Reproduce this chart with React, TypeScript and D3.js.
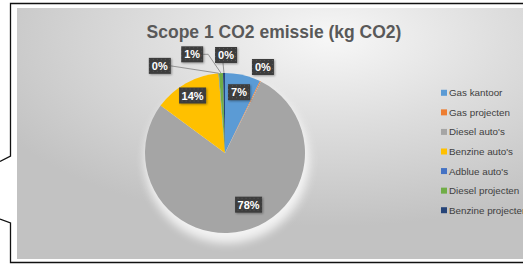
import * as d3 from 'd3';

const categories = ["Gas kantoor", "Gas projecten", "Diesel auto's", "Benzine auto's", "Adblue auto's", "Diesel projecten", "Benzine projecten"];
const values = [7.2, 0.2, 77.7, 13.6, 0.1, 0.8, 0.4];
const colors = ["#5B9BD5", "#ED7D31", "#A5A5A5", "#FFC000", "#4472C4", "#70AD47", "#264478"];
const title = "Scope 1 CO2 emissie (kg CO2)";

// label placement: inside labels sit on the slice (radius factor + nudge),
// outside ones get a polar spot [angle deg, radius factor] and a leader line
const labelInside = [true, false, true, true, false, false, false];
const labelSpot: ([number, number] | null)[] = [null, [23.8, 1.175], null, null, [-36.8, 1.36], [-18.4, 1.3], [0.6, 1.225]];
const labelNudge = [[0, 0], [0, 0], [9, -9], [-2, -3], [0, 0], [0, 0], [0, 0]];
const leader = [false, false, false, false, true, true, true];

export default function App() {
  const W = 523, H = 267;
  const cx = 225, cy = 153, r = 80;

  const total = d3.sum(values);
  const pie = d3.pie<number>().sort(null).value(d => d);
  const arcs = pie(values);
  const arc = d3.arc<d3.PieArcDatum<number>>().innerRadius(0).outerRadius(r);
  const labelArc = d3.arc<d3.PieArcDatum<number>>().innerRadius(r * 0.78).outerRadius(r * 0.78);

  const polar = (deg: number, rad: number) => {
    const a = (deg * Math.PI) / 180;
    return [cx + Math.sin(a) * rad, cy - Math.cos(a) * rad];
  };

  const labels = arcs.map((a, i) => {
    const txt = Math.round((values[i] / total) * 100) + '%';
    let x: number, y: number;
    if (labelInside[i]) {
      const c = labelArc.centroid(a);
      x = cx + c[0] + labelNudge[i][0];
      y = cy + c[1] + labelNudge[i][1];
    } else {
      const s = labelSpot[i]!;
      [x, y] = polar(s[0], s[1] * r);
    }
    const w = txt.length > 2 ? 27 : 22;
    const mid = ((a.startAngle + a.endAngle) / 2) * 180 / Math.PI;
    return { txt, x, y, w, mid, i };
  });

  const legendY = d3.scaleBand<string>().domain(categories).range([83, 220]);

  return (
    <svg width={W} height={H} style={{ position: 'absolute', left: 0, top: 0, background: '#fff' }}>
      <defs>
        <radialGradient id="bg" cx="0.62" cy="0.12" r="0.75" fx="0.62" fy="0.12">
          <stop offset="0" stopColor="#f7f7f7" />
          <stop offset="0.45" stopColor="#dedede" />
          <stop offset="1" stopColor="#c2c2c2" />
        </radialGradient>
        <pattern id="dots" width="4" height="4" patternUnits="userSpaceOnUse">
          <rect width="4" height="4" fill="#3d3d3d" />
          <rect x="1" y="1" width="1" height="1" fill="#555" />
        </pattern>
        <filter id="glow" x="-30%" y="-30%" width="160%" height="160%">
          <feGaussianBlur stdDeviation="5" />
        </filter>
        <filter id="sh" x="-20%" y="-20%" width="150%" height="150%">
          <feDropShadow dx="1" dy="1" stdDeviation="0.8" floodColor="#000" floodOpacity="0.35" />
        </filter>
      </defs>

      <rect x={17} y={8} width={W - 17} height={251} fill="url(#bg)" />

      <path d={`M${W},3.5 H10.5 V156 L0,161.5 M0,219 L10.5,223 V262.5 H${W}`} fill="none" stroke="#111" strokeWidth={1.3} />

      <text x={274} y={38} textAnchor="middle" fontFamily="Liberation Sans, Arial, sans-serif" fontWeight="bold" fontSize={17.5} fill="#595959">{title}</text>

      <circle cx={cx + 2} cy={cy + 8} r={r + 2} fill="#fff" opacity={0.8} filter="url(#glow)" />
      <g transform={`translate(${cx},${cy})`}>
        {arcs.map((a, i) => (
          <path key={i} d={arc(a) || ''} fill={colors[i]} />
        ))}
      </g>

      {labels.map(l => {
        if (!leader[l.i]) return null;
        const [ex, ey] = polar(l.mid, r);
        const bx = l.x + l.w / 2, by = l.y;
        if (l.i === 6) {
          return <line key={'l' + l.i} x1={ex} y1={ey} x2={ex - 1} y2={l.y + 8} stroke="#7f7f7f" strokeWidth={0.8} />;
        }
        const pts = l.i === 5 ? [[bx, by], [bx + 5, by], [ex, ey]] : [[bx, by], [ex, ey]];
        return <polyline key={'l' + l.i} points={pts.map(p => p.join(',')).join(' ')} fill="none" stroke="#7f7f7f" strokeWidth={0.8} />;
      })}

      {labels.map(l => (
        <g key={'b' + l.i} transform={`translate(${l.x},${l.y})`}>
          <rect x={-l.w / 2} y={-8} width={l.w} height={16} fill="url(#dots)" filter="url(#sh)" />
          <text y={4} textAnchor="middle" fontFamily="Liberation Sans, Arial, sans-serif" fontWeight="bold" fontSize={11} fill="#fff">{l.txt}</text>
        </g>
      ))}

      {categories.map((c, i) => {
        const y = (legendY(c) || 0) + legendY.bandwidth() / 2;
        return (
          <g key={c}>
            <rect x={441} y={y - 3} width={6} height={6} fill={colors[i]} />
            <text x={449} y={y + 3.5} fontFamily="Liberation Sans, Arial, sans-serif" fontSize={9.8} fill="#404040">{c}</text>
          </g>
        );
      })}
    </svg>
  );
}
